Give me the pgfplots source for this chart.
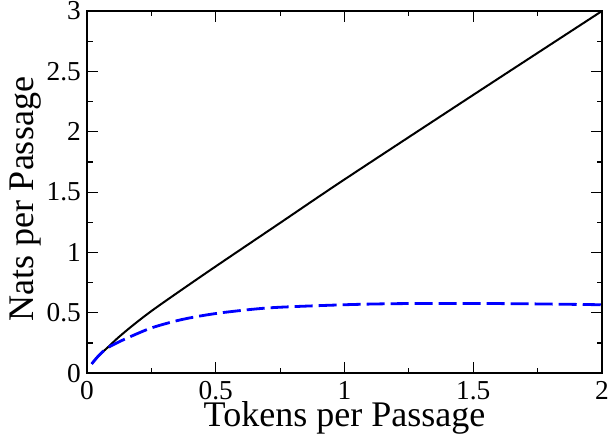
\documentclass[border=0pt]{standalone}
\usepackage{pgfplots}
\pgfplotsset{compat=1.18}
\usepackage{fontspec}
\setmainfont{Liberation Serif}
\begin{document}
\begin{tikzpicture}
\begin{axis}[
  scale only axis,
  width=386pt, height=271.5pt,
  xmin=0, xmax=2, ymin=0, ymax=3,
  xtick={0,0.5,1,1.5,2},
  ytick={0,0.5,1,1.5,2,2.5,3},
  xticklabels={0,0.5,1,1.5,2},
  yticklabels={0,0.5,1,1.5,2,2.5,3},
  minor x tick num=1, minor y tick num=1,
  tick align=inside,
  major tick length=8.25pt, minor tick length=4.1pt,
  tick style={black, line width=0.9pt},
  axis line style={line width=1.1pt},
  ticklabel style={font=\fontsize{20.5}{20.5}\selectfont, inner sep=0pt},
  xticklabel style={anchor=north, yshift=-6pt},
  yticklabel style={anchor=east, xshift=-4.5pt},
  xlabel={Tokens per Passage},
  ylabel={Nats per Passage},
  label style={font=\fontsize{27}{27}\selectfont, inner sep=0pt},
  xlabel style={at={(axis description cs:0.5,-0.146)}, anchor=base},
  ylabel style={at={(axis description cs:-0.1049,0.481)}, anchor=base},
]
\addplot[black, line width=1.5pt, smooth] coordinates {
(0.018,0.077)(0.045,0.145)(0.076,0.205)(0.121,0.295)(0.18,0.40)(0.25,0.515)(0.35,0.665)(0.5,0.885)(0.75,1.245)(1.0,1.605)(1.5,2.305)(2.0,3.0)
};
\addplot[blue, line width=2.1pt, dash pattern=on 13.5pt off 4.5pt, smooth] coordinates {
(0.018,0.077)(0.045,0.145)(0.076,0.205)(0.11,0.245)(0.16,0.295)(0.25,0.375)(0.353,0.437)(0.448,0.477)(0.55,0.508)(0.72,0.543)(1.0,0.567)(1.2,0.576)(1.45,0.578)(1.7,0.575)(2.0,0.567)
};
\coordinate (bl) at (rel axis cs:0,0);
\coordinate (tr) at (rel axis cs:1,1);
\end{axis}
\pgfresetboundingbox
\path ([shift={(-65.25pt,-49.5pt)}]bl) rectangle ([shift={(8.25pt,8.25pt)}]tr);
\end{tikzpicture}
\end{document}
